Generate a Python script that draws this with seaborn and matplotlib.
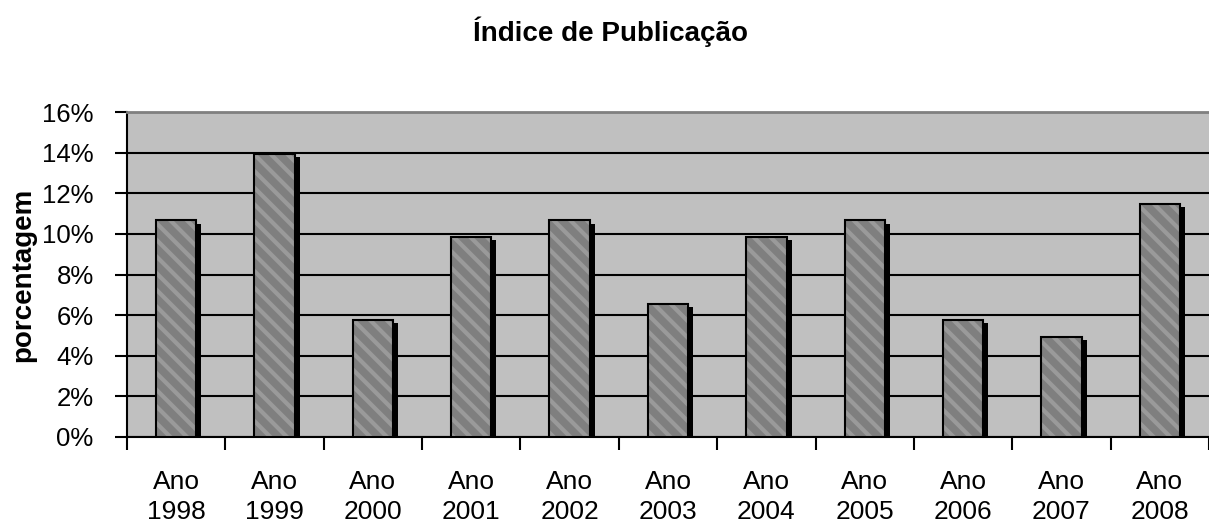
import numpy as np
import pandas as pd
import seaborn as sns
import matplotlib
matplotlib.use("Agg")
import matplotlib.pyplot as plt
import matplotlib.patheffects as pe

# data
anos = ["1998", "1999", "2000", "2001", "2002", "2003",
        "2004", "2005", "2006", "2007", "2008"]
porcentagem = [10.66, 13.93, 5.74, 9.84, 10.66, 6.56,
               9.84, 10.66, 5.74, 4.92, 11.48]
yticks = [0, 2, 4, 6, 8, 10, 12, 14, 16]

df = pd.DataFrame({"ano": ["Ano\n" + a for a in anos], "pct": porcentagem})

sns.set_style("ticks")
plt.rcParams["font.family"] = ["Liberation Sans", "DejaVu Sans"]
plt.rcParams["hatch.linewidth"] = 3.0
plt.rcParams["text.color"] = "black"
plt.rcParams["xtick.color"] = "black"
plt.rcParams["ytick.color"] = "black"
plt.rcParams["axes.labelcolor"] = "black"

fig = plt.figure(figsize=(12.09, 5.29), dpi=100)
ax = fig.add_axes([127 / 1209, 92 / 529, 1 - 127 / 1209, 325 / 529])
ax.set_facecolor("#c0c0c0")

sns.barplot(data=df, x="ano", y="pct", ax=ax, width=0.41,
            color="#808080", edgecolor="#9a9a9a", linewidth=0,
            hatch="\\\\", saturation=1, errorbar=None)

# shadow + black outline on each bar
for bar in ax.patches:
    bar.set_facecolor("#7f7f7f")
    bar.set_path_effects([
        pe.SimplePatchShadow(offset=(3.6, -2.2), shadow_rgbFace="k",
                             alpha=1, hatch=None),
        pe.Stroke(linewidth=1.5, foreground="k"),
    ])
    bar.set_zorder(3)

ax.set_ylim(0, 16)
ax.set_xlim(-0.5, len(anos) - 0.5)
ax.set_yticks(yticks)
ax.set_yticklabels([f"{v}%" for v in yticks])
ax.yaxis.grid(True, color="black", linewidth=1.5)
ax.set_axisbelow(True)

ax.set_xticks(np.arange(-0.5, len(anos), 1), minor=True)
ax.tick_params(axis="x", which="major", length=0, pad=24, labelsize=19)
ax.tick_params(axis="x", which="minor", length=9, width=1.5, color="black")
ax.tick_params(axis="y", length=9, width=1.5, pad=15, labelsize=18.5)
for lab in ax.get_xticklabels():
    lab.set_linespacing(1.3)

for s in ["left", "bottom"]:
    ax.spines[s].set_color("black")
    ax.spines[s].set_linewidth(1.5)
ax.spines["top"].set_visible(True)
ax.spines["top"].set_color("#808080")
ax.spines["top"].set_linewidth(2)
ax.spines["right"].set_visible(False)

ax.set_xlabel("")
ax.set_ylabel("porcentagem", fontsize=20, fontweight="bold", labelpad=4)
fig.text(0.505, 0.94, "Índice de Publicação", ha="center", va="center",
         fontsize=20, fontweight="bold")

plt.savefig("out.png", dpi=100)
